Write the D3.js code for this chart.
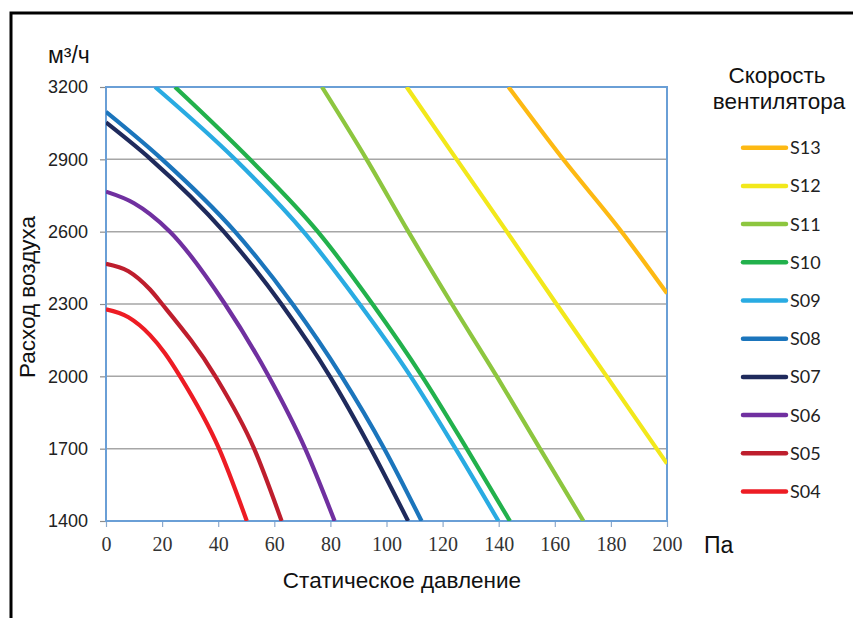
<!DOCTYPE html>
<html>
<head>
<meta charset="utf-8">
<script src="https://cdn.jsdelivr.net/npm/d3@7"></script>
<style>
  html, body { margin: 0; padding: 0; background: #fff; }
  svg { display: block; }
</style>
</head>
<body>
<svg id="chart" width="853" height="618"></svg>
<script>
// Fan curves: static pressure (Pa) vs air flow (m³/h), one curve per fan speed
const seriesNames = ["S13", "S12", "S11", "S10", "S09", "S08", "S07", "S06", "S05", "S04"];
const seriesColors = ["#fdb913", "#f2e81b", "#8dc63f", "#22b14c", "#29abe2", "#1b75bc", "#1f2a5c", "#7030a0", "#be1e2d", "#ed1c24"];

const S13 = [[143.5, 3200], [163, 2900], [183.8, 2600], [200, 2344]];
const S12 = [[107.2, 3200], [125, 2900], [142.9, 2600], [160.6, 2300], [178.5, 2000], [196.3, 1700], [200, 1638]];
const S11 = [[77, 3200], [92.9, 2900], [107.8, 2600], [123.3, 2300], [139.3, 2000], [154.7, 1700], [170.2, 1400]];
const S10 = [[24.6, 3200], [51.3, 2900], [75.5, 2600], [95, 2300], [112.7, 2000], [128.6, 1700], [144, 1400]];
const S09 = [[17.5, 3200], [46, 2900], [70.4, 2600], [90.4, 2300], [108.6, 2000], [124.6, 1700], [139.9, 1400]];
const S08 = [[0, 3097], [20, 2900], [46, 2600], [66.5, 2300], [84, 2000], [99.2, 1700], [112.5, 1400]];
const S07 = [[0, 3053], [16, 2900], [42, 2600], [62.5, 2300], [79.8, 2000], [94.4, 1700], [107.7, 1400]];
const S06 = [[0, 2766], [10, 2718], [15.7, 2673], [22.8, 2600], [42.4, 2300], [58, 2000], [71, 1700], [81.5, 1400]];
const S05 = [[0, 2467], [8, 2436], [15.7, 2360], [20, 2300], [39, 2000], [52.8, 1700], [62.6, 1400]];
const S04 = [[0, 2278], [8, 2245], [15.7, 2171], [21, 2096], [26.4, 2000], [40.3, 1700], [50.2, 1400]];
const seriesData = [S13, S12, S11, S10, S09, S08, S07, S06, S05, S04];

const xTicks = [0, 20, 40, 60, 80, 100, 120, 140, 160, 180, 200];
const yTicks = [1400, 1700, 2000, 2300, 2600, 2900, 3200];

const svg = d3.select("#chart");
const plotLeft = 106, plotRight = 667, plotTop = 87, plotBottom = 521;

const x = d3.scaleLinear().domain([0, 200]).range([plotLeft, plotRight]);
const y = d3.scaleLinear().domain([1400, 3200]).range([plotBottom, plotTop]);

// outer frame
svg.append("rect")
  .attr("x", 11).attr("y", 13)
  .attr("width", 900).attr("height", 700)
  .attr("fill", "none").attr("stroke", "#000").attr("stroke-width", 3);

// horizontal gridlines
svg.append("g")
  .selectAll("line")
  .data(yTicks.slice(1, -1))
  .join("line")
  .attr("x1", plotLeft).attr("x2", plotRight)
  .attr("y1", d => y(d)).attr("y2", d => y(d))
  .attr("stroke", "#a6a6a6").attr("stroke-width", 1.5);

// y axis
const yAxis = svg.append("g")
  .attr("transform", `translate(${plotLeft},0)`)
  .call(d3.axisLeft(y).tickValues(yTicks).tickSize(6).tickPadding(12).tickFormat(d3.format("d")));
yAxis.select(".domain").remove();
yAxis.selectAll(".tick line").attr("stroke", "#8c8c8c").attr("stroke-width", 1.2);
yAxis.selectAll(".tick text")
  .attr("fill", "#222")
  .style("font-family", "'Liberation Sans', Arial, sans-serif")
  .style("font-size", "18px");

// x axis
const xAxis = svg.append("g")
  .attr("transform", `translate(0,${plotBottom})`)
  .call(d3.axisBottom(x).tickValues(xTicks).tickSize(6).tickPadding(10).tickFormat(d3.format("d")));
xAxis.select(".domain").remove();
xAxis.selectAll(".tick line").attr("stroke", "#8ca9cc").attr("stroke-width", 1.2);
xAxis.selectAll(".tick text")
  .attr("fill", "#333")
  .style("font-family", "'Liberation Serif', 'DejaVu Serif', serif")
  .style("font-size", "20px");

// plot area border
svg.append("rect")
  .attr("x", plotLeft).attr("y", plotTop)
  .attr("width", plotRight - plotLeft).attr("height", plotBottom - plotTop)
  .attr("fill", "none").attr("stroke", "#6a9fd6").attr("stroke-width", 2);

// curves
svg.append("clipPath").attr("id", "plotClip")
  .append("rect").attr("x", plotLeft).attr("y", plotTop)
  .attr("width", plotRight - plotLeft).attr("height", plotBottom - plotTop);

const line = d3.line()
  .x(d => x(d[0]))
  .y(d => y(d[1]))
  .curve(d3.curveMonotoneX);

svg.append("g")
  .attr("clip-path", "url(#plotClip)")
  .selectAll("path")
  .data(seriesData)
  .join("path")
  .attr("d", line)
  .attr("fill", "none")
  .attr("stroke", (d, i) => seriesColors[i])
  .attr("stroke-width", 4.2)
  .attr("stroke-linejoin", "round");

// axis titles and units
const sans = "'Liberation Sans', Arial, sans-serif";
svg.append("text")
  .attr("x", 48).attr("y", 63)
  .style("font-family", sans).style("font-size", "23px").attr("fill", "#111")
  .text("м³/ч");

svg.append("text")
  .attr("x", 704).attr("y", 553)
  .style("font-family", sans).style("font-size", "23px").attr("fill", "#111")
  .text("Па");

svg.append("text")
  .attr("x", 402).attr("y", 588)
  .attr("text-anchor", "middle")
  .style("font-family", sans).style("font-size", "22.5px").attr("fill", "#111")
  .text("Статическое давление");

svg.append("text")
  .attr("transform", "translate(35,297) rotate(-90)")
  .attr("text-anchor", "middle")
  .style("font-family", sans).style("font-size", "22.5px").attr("fill", "#111")
  .text("Расход воздуха");

// legend
const legend = svg.append("g");
legend.append("text")
  .attr("x", 777).attr("y", 83)
  .attr("text-anchor", "middle")
  .style("font-family", sans).style("font-size", "22.5px").attr("fill", "#111")
  .text("Скорость");
legend.append("text")
  .attr("x", 779).attr("y", 109)
  .attr("text-anchor", "middle")
  .style("font-family", sans).style("font-size", "22.5px").attr("fill", "#111")
  .text("вентилятора");

const item = legend.selectAll("g.item")
  .data(seriesNames)
  .join("g")
  .attr("class", "item")
  .attr("transform", (d, i) => `translate(0,${147.7 + i * 38.2})`);
item.append("line")
  .attr("x1", 743).attr("x2", 786)
  .attr("stroke", (d, i) => seriesColors[i])
  .attr("stroke-width", 4.5)
  .attr("stroke-linecap", "round");
item.append("text")
  .attr("x", 790).attr("y", 6.5)
  .style("font-family", "Lato, 'Open Sans', sans-serif").style("font-size", "18px").attr("fill", "#222")
  .text(d => d);
</script>
</body>
</html>
